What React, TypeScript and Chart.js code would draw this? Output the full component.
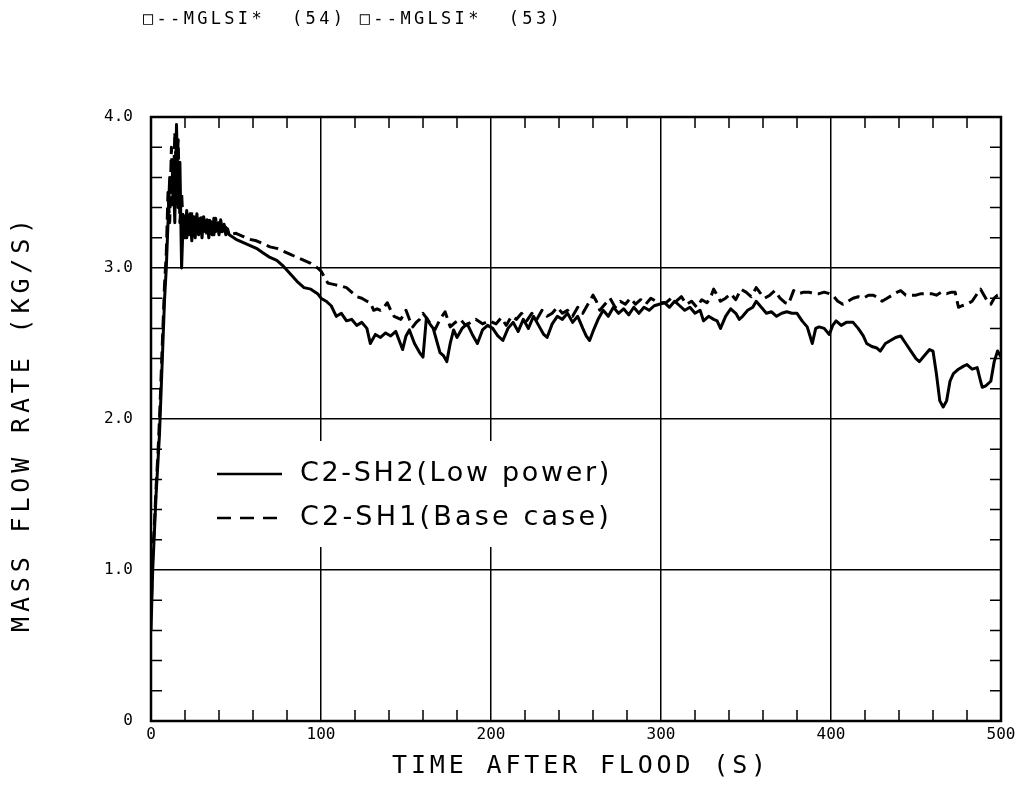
import React, { useEffect, useRef } from "react";
import { Chart, registerables } from "chart.js";
Chart.register(...registerables);

// ---- data ----
const HEADER_TEXT = "\u25A1--MGLSI*  (54) \u25A1--MGLSI*  (53)";
const X_TITLE = "TIME AFTER FLOOD (S)";
const Y_TITLE = "MASS FLOW RATE (KG/S)";
const SERIES_LABELS = ["C2-SH2(Low power)", "C2-SH1(Base case)"];

const lowPowerTime = [
  0, 1, 2, 3, 4, 5, 6, 7, 8, 9, 10, 11, 12, 13, 14, 15, 16, 17, 18, 19, 20, 21, 22, 23, 24, 25, 26, 27, 28, 29, 30, 31, 32, 33, 34, 35,
  36, 37, 38, 39, 40, 41, 42, 43, 44, 45, 46,
  50, 54, 58, 62, 66, 70, 74, 78, 82, 86, 90, 94, 98, 100, 103, 106, 109, 112, 115, 118, 121, 124, 127, 129, 132, 135, 138, 141, 144,
  146, 148, 150, 152, 155, 158, 160, 162, 164, 166, 168, 170, 172, 174, 176, 178, 180, 183, 186, 189, 192, 195, 198, 201, 204, 207,
  210, 213, 216, 219, 222, 225, 228, 231, 233, 236, 239, 242, 245, 248, 251, 254, 256, 258, 260, 263, 266, 269, 272, 275, 278, 281,
  284, 287, 290, 293, 296, 299, 302, 305, 308, 311, 314, 317, 320, 323, 325, 328, 331, 333, 335, 338, 341, 344, 346, 348, 351, 354,
  356, 359, 362, 365, 368, 371, 374, 377, 380, 383, 386, 389, 391, 393, 396, 399, 401, 403, 406, 409, 413, 416, 419, 421, 424, 427,
  429, 432, 435, 438, 441, 444, 447, 450, 452, 455, 458, 460, 462, 464, 466, 468, 470, 472, 475, 478, 480, 483, 486, 488, 489, 491,
  494, 496, 498, 500,
];
const lowPowerFlow = [
  0.6, 1.0, 1.25, 1.5, 1.7, 1.9, 2.2, 2.5, 2.8, 3.0, 3.3, 3.6, 3.5, 3.7, 3.3, 3.95, 3.4, 3.7,
  3.0, 3.35, 3.2, 3.38, 3.22, 3.36, 3.18, 3.34, 3.2, 3.36, 3.22, 3.33, 3.2, 3.34, 3.24, 3.32, 3.2, 3.31, 3.22, 3.33, 3.24, 3.3, 3.22,
  3.32, 3.24, 3.29, 3.22, 3.26, 3.22,
  3.19, 3.17, 3.15, 3.13, 3.1, 3.07, 3.05, 3.01, 2.96, 2.91, 2.87, 2.86, 2.83, 2.8, 2.78, 2.75, 2.68, 2.7, 2.65, 2.66, 2.62, 2.64, 2.6,
  2.5, 2.56, 2.54, 2.57, 2.55, 2.58,
  2.52, 2.46, 2.55, 2.59, 2.5, 2.44, 2.41, 2.67, 2.63, 2.6, 2.52, 2.44, 2.42, 2.38, 2.5, 2.59, 2.54, 2.6, 2.63, 2.56, 2.5, 2.59, 2.62,
  2.6, 2.55, 2.52,
  2.6, 2.64, 2.58, 2.66, 2.6, 2.68, 2.62, 2.56, 2.54, 2.63, 2.68, 2.66, 2.7, 2.64, 2.68, 2.6, 2.55, 2.52, 2.58, 2.66, 2.72, 2.68, 2.74,
  2.7, 2.73, 2.69,
  2.74, 2.7, 2.74, 2.72, 2.75, 2.76, 2.77, 2.74, 2.78, 2.75, 2.72, 2.74, 2.7, 2.72, 2.65, 2.68, 2.66, 2.65, 2.6, 2.68, 2.73, 2.7, 2.66,
  2.68, 2.72, 2.74,
  2.78, 2.74, 2.7, 2.71, 2.68, 2.7, 2.71, 2.7, 2.7, 2.65, 2.61, 2.5, 2.6, 2.61, 2.6, 2.56, 2.62, 2.65, 2.62, 2.64, 2.64, 2.6, 2.55, 2.5,
  2.48, 2.47,
  2.45, 2.5, 2.52, 2.54, 2.55, 2.5, 2.45, 2.4, 2.38, 2.42, 2.46, 2.45, 2.3, 2.12, 2.08, 2.12, 2.25, 2.3, 2.33, 2.35, 2.36, 2.33, 2.34,
  2.25, 2.21, 2.22,
  2.25, 2.38, 2.45, 2.41,
];

const baseCaseTime = [
  0, 1, 2, 3, 4, 5, 6, 7, 8, 9, 10, 11, 12, 13, 14, 15, 16, 17, 18, 19, 20, 21, 22, 23, 24, 25, 26, 27, 28, 29, 30, 31, 32, 33, 34, 35,
  36, 37, 38, 39, 40, 41, 42, 43, 44, 45, 46, 50,
  54, 58, 62, 66, 70, 74, 78, 82, 86, 90, 94, 98, 100, 104, 108, 112, 115, 118, 121, 124, 127, 129, 131, 133, 135, 137, 139, 141, 143,
  145, 147, 150, 152, 154, 156, 158, 160, 162, 165, 167, 170, 173, 176, 179, 182, 185, 188, 191, 195, 199, 203, 206, 209, 212, 215, 218,
  221, 224, 227, 230, 233, 236, 239, 242, 245, 248, 251, 254, 257, 260, 262, 264, 267, 270, 273, 276, 279, 282, 285, 288, 291, 294, 297,
  300, 303, 306, 309, 312, 315, 318, 321, 324, 327, 329, 331, 333, 335, 338, 341, 344, 347, 350, 353, 356, 358, 361, 364, 367, 370, 373,
  375, 378, 381, 384, 387, 390, 393, 396, 399, 401, 404, 407, 410, 413, 416, 419, 422, 425, 428, 430, 433, 436, 439, 441, 444, 447, 450,
  453, 456, 459, 462, 465, 468, 471, 473, 475, 477, 480, 483, 486, 488, 490, 492, 494, 496, 498, 500,
];
const baseCaseFlow = [
  0.7, 1.1, 1.3, 1.55, 1.75, 2.0, 2.3, 2.6, 2.9, 3.1, 3.5, 3.3, 3.8, 3.4, 3.9, 3.6, 3.85, 3.3,
  3.5, 3.25, 3.36, 3.2, 3.34, 3.22, 3.37, 3.24, 3.35, 3.21, 3.33, 3.23, 3.35, 3.25, 3.3, 3.21, 3.34, 3.26, 3.3, 3.22, 3.33, 3.25, 3.3,
  3.24, 3.28, 3.23, 3.27, 3.22, 3.22, 3.23,
  3.21, 3.19, 3.18, 3.16, 3.14, 3.13, 3.11, 3.09, 3.07, 3.05, 3.03, 3.0, 2.98, 2.9, 2.89, 2.88, 2.87, 2.84, 2.81, 2.8, 2.78, 2.77, 2.72,
  2.73, 2.72, 2.74, 2.77, 2.72, 2.68,
  2.67, 2.66, 2.72, 2.66, 2.61, 2.64, 2.66, 2.7, 2.67, 2.62, 2.59, 2.66, 2.71, 2.61, 2.64, 2.66, 2.62, 2.64, 2.66, 2.63, 2.65, 2.63,
  2.67, 2.62, 2.68, 2.66, 2.7,
  2.65, 2.7, 2.66, 2.72, 2.68, 2.7, 2.74, 2.7, 2.72, 2.68, 2.74, 2.7, 2.76, 2.82, 2.78, 2.72, 2.76, 2.8, 2.74, 2.78, 2.76, 2.8, 2.76,
  2.79, 2.76, 2.8, 2.78,
  2.77, 2.77, 2.8, 2.78, 2.81, 2.76, 2.78, 2.74, 2.79, 2.77, 2.8, 2.86, 2.82, 2.78, 2.8, 2.83, 2.79, 2.86, 2.84, 2.81, 2.87, 2.84, 2.8,
  2.82, 2.85, 2.8, 2.77,
  2.76, 2.85, 2.83, 2.84, 2.84, 2.83, 2.83, 2.84, 2.83, 2.82, 2.78, 2.76, 2.78, 2.8, 2.81, 2.8, 2.82, 2.82, 2.8, 2.78, 2.8, 2.82, 2.84,
  2.85, 2.82, 2.82, 2.82,
  2.83, 2.83, 2.83, 2.82, 2.84, 2.83, 2.84, 2.84, 2.74, 2.75, 2.76, 2.78, 2.83, 2.86, 2.82, 2.78, 2.76, 2.8, 2.82, 2.82,
];

const X_MIN = 0;
const X_MAX = 500;
const Y_MIN = 0;
const Y_MAX = 4;

const MONO = "'DejaVu Sans Mono', monospace";

function drawSpaced(
  ctx: CanvasRenderingContext2D,
  text: string,
  x: number,
  y: number,
  width: number,
  font: string,
  align: "left" | "center"
) {
  ctx.save();
  ctx.font = font;
  (ctx as any).letterSpacing = "0px";
  const w = ctx.measureText(text).width;
  const n = Array.from(text).length;
  const sp = n > 1 ? (width - w) / n : 0;
  (ctx as any).letterSpacing = sp + "px";
  ctx.textAlign = "left";
  ctx.textBaseline = "middle";
  ctx.fillStyle = "#000";
  const startX = align === "center" ? x - width / 2 : x;
  ctx.fillText(text, startX, y);
  ctx.restore();
}

const decorPlugin = {
  id: "decor",
  afterDraw(chart: any) {
    const { ctx, chartArea } = chart;
    const xs = chart.scales.x;
    const ys = chart.scales.y;
    const { left, right, top, bottom } = chartArea;
    ctx.save();
    // frame
    ctx.strokeStyle = "#000";
    ctx.lineWidth = 2.5;
    ctx.strokeRect(left, top, right - left, bottom - top);
    // inward minor ticks
    ctx.lineWidth = 1.5;
    const tl = 11;
    ctx.beginPath();
    for (let v = X_MIN + 20; v < X_MAX; v += 20) {
      if (v % 100 === 0) continue;
      const px = xs.getPixelForValue(v);
      ctx.moveTo(px, bottom);
      ctx.lineTo(px, bottom - tl);
      ctx.moveTo(px, top);
      ctx.lineTo(px, top + tl);
    }
    for (let i = 1; i < 20; i++) {
      if (i % 5 === 0) continue;
      const py = ys.getPixelForValue(i * 0.2);
      ctx.moveTo(left, py);
      ctx.lineTo(left + tl, py);
      ctx.moveTo(right, py);
      ctx.lineTo(right - tl, py);
    }
    ctx.stroke();

    // legend box (white, covers grid)
    ctx.fillStyle = "#fff";
    ctx.fillRect(200, 441, 440, 106);
    ctx.strokeStyle = "#000";
    ctx.lineWidth = 2.5;
    ctx.beginPath();
    ctx.moveTo(217, 474);
    ctx.lineTo(282, 474);
    ctx.stroke();
    ctx.setLineDash([14, 9]);
    ctx.beginPath();
    ctx.moveTo(217, 518);
    ctx.lineTo(282, 518);
    ctx.stroke();
    ctx.setLineDash([]);
    const legFont = "27px 'DejaVu Sans', sans-serif";
    drawSpaced(ctx, SERIES_LABELS[0], 300, 474, 312, legFont, "left");
    drawSpaced(ctx, SERIES_LABELS[1], 300, 518, 312, legFont, "left");

    // header
    drawSpaced(ctx, HEADER_TEXT, 143, 20, 420, "17px " + MONO, "left");
    // x title
    drawSpaced(ctx, X_TITLE, 581, 766, 378, "25px " + MONO, "center");
    // y title
    ctx.save();
    ctx.translate(22, 423);
    ctx.rotate(-Math.PI / 2);
    drawSpaced(ctx, Y_TITLE, 0, 0, 418, "25px " + MONO, "center");
    ctx.restore();
    ctx.restore();
  },
};

export default function App() {
  const ref = useRef<HTMLCanvasElement | null>(null);
  useEffect(() => {
    if (!ref.current) return;
    const chart = new Chart(ref.current, {
      type: "line",
      data: {
        datasets: [
          {
            label: SERIES_LABELS[0],
            data: lowPowerTime.map((t, i) => ({ x: t, y: lowPowerFlow[i] })),
            borderColor: "#000",
            borderWidth: 3,
            pointRadius: 0,
            tension: 0,
            borderJoinStyle: "round",
          },
          {
            label: SERIES_LABELS[1],
            data: baseCaseTime.map((t, i) => ({ x: t, y: baseCaseFlow[i] })),
            borderColor: "#000",
            borderWidth: 3,
            borderDash: [12, 6],
            pointRadius: 0,
            tension: 0,
            borderJoinStyle: "round",
          },
        ],
      },
      options: {
        animation: false,
        responsive: true,
        maintainAspectRatio: false,
        layout: { padding: { top: 117, right: 23, left: 0, bottom: 0 } },
        plugins: { legend: { display: false }, tooltip: { enabled: false }, title: { display: false } },
        scales: {
          x: {
            type: "linear",
            min: X_MIN,
            max: X_MAX,
            afterFit: (s: any) => {
              s.height = 64;
            },
            ticks: {
              stepSize: 100,
              color: "#000",
              padding: 4,
              maxRotation: 0,
              font: { family: MONO, size: 16 },
            },
            grid: { color: "#000", lineWidth: 1.5, drawTicks: false },
            border: { color: "#000", width: 2 },
          },
          y: {
            type: "linear",
            min: Y_MIN,
            max: Y_MAX,
            afterFit: (s: any) => {
              s.width = 151;
            },
            ticks: {
              stepSize: 1,
              color: "#000",
              padding: 18,
              font: { family: MONO, size: 16 },
              callback: (v: any) => (v === 0 ? "0" : Number(v).toFixed(1)),
            },
            grid: { color: "#000", lineWidth: 1.5, drawTicks: false },
            border: { color: "#000", width: 2 },
          },
        },
      },
      plugins: [decorPlugin],
    } as any);
    return () => chart.destroy();
  }, []);
  return (
    <div style={{ position: "absolute", left: 0, top: 0, width: 1024, height: 785, background: "#fff" }}>
      <canvas ref={ref} />
    </div>
  );
}
